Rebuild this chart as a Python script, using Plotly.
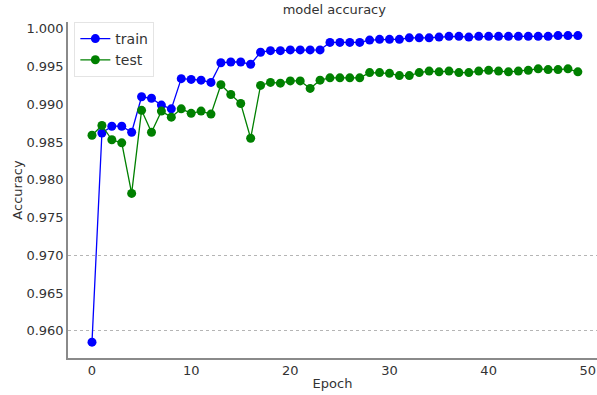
import plotly.graph_objects as go

# Training history: accuracy per epoch
epochs = list(range(50))
train_acc = [0.9585, 0.9862, 0.9871, 0.9871, 0.9863, 0.9910, 0.9908, 0.9899, 0.9894, 0.9934,
             0.9933, 0.9932, 0.9929, 0.9955, 0.9956, 0.9956, 0.9953, 0.9969, 0.9971, 0.9971,
             0.9972, 0.9972, 0.9972, 0.9972, 0.9982, 0.9982, 0.9982, 0.9982, 0.9985, 0.9986,
             0.9986, 0.9986, 0.9988, 0.9988, 0.9988, 0.9989, 0.9990, 0.9990, 0.9989, 0.9990,
             0.9990, 0.9990, 0.9990, 0.9990, 0.9990, 0.9990, 0.9990, 0.9991, 0.9991, 0.9991]
test_acc = [0.9859, 0.9872, 0.9853, 0.9849, 0.9782, 0.9892, 0.9863, 0.9891, 0.9883, 0.9894,
            0.9888, 0.9891, 0.9887, 0.9926, 0.9913, 0.9901, 0.9855, 0.9925, 0.9929, 0.9928,
            0.9931, 0.9931, 0.9921, 0.9932, 0.9935, 0.9935, 0.9935, 0.9935, 0.9942, 0.9942,
            0.9941, 0.9938, 0.9938, 0.9942, 0.9944, 0.9943, 0.9944, 0.9942, 0.9942, 0.9944,
            0.9945, 0.9944, 0.9943, 0.9944, 0.9945, 0.9947, 0.9946, 0.9946, 0.9947, 0.9943]

y_ticks = [0.960, 0.965, 0.970, 0.975, 0.980, 0.985, 0.990, 0.995, 1.000]
y_tick_text = ["0.960", "0.965", "0.970", "0.975", "0.980", "0.985", "0.990", "0.995", "1.000"]
x_ticks = [0, 10, 20, 30, 40, 50]
grid_levels = [0.960, 0.970]

y_range = [0.9564, 1.0009]
x_range = [-2.42, 50.93]

font_family = "DejaVu Sans"
text_color = "#333333"

fig = go.Figure()
fig.add_trace(go.Scatter(
    x=epochs, y=train_acc, name="train", mode="lines+markers",
    line=dict(color="#0000ff", width=1.3),
    marker=dict(color="#0000ff", size=9),
))
fig.add_trace(go.Scatter(
    x=epochs, y=test_acc, name="test", mode="lines+markers",
    line=dict(color="#008000", width=1.3),
    marker=dict(color="#008000", size=9),
))

fig.update_layout(
    width=597, height=395,
    margin=dict(l=68, r=0, t=22, b=37),
    paper_bgcolor="white", plot_bgcolor="white",
    font=dict(family=font_family, size=13, color=text_color),
    showlegend=True,
    legend=dict(
        x=0.012, y=1.0, xanchor="left", yanchor="top",
        bgcolor="rgba(255,255,255,0.9)", bordercolor="#e4e4e4", borderwidth=1,
        font=dict(size=14, color=text_color),
        tracegroupgap=0, itemwidth=30,
    ),
    xaxis=dict(
        range=x_range, tickvals=x_ticks, showgrid=False, zeroline=False,
        showline=True, linecolor="#8a8a8a", linewidth=1.5,
        ticks="", ticklen=0, tickfont=dict(size=13, color=text_color),
        title=dict(text="Epoch", font=dict(size=13, color=text_color), standoff=2),
    ),
    yaxis=dict(
        range=y_range, tickvals=y_ticks, ticktext=y_tick_text,
        showgrid=False, zeroline=False,
        showline=True, linecolor="#8a8a8a", linewidth=1.5,
        ticks="", ticklen=0, tickfont=dict(size=13, color=text_color),
        title=dict(text="Accuracy", font=dict(size=13, color=text_color), standoff=1),
    ),
    yaxis2=dict(
        range=y_range, overlaying="y", tickvals=grid_levels,
        showticklabels=False, showgrid=True, gridcolor="#b5b5b5",
        griddash="dot", gridwidth=1, zeroline=False, showline=False,
    ),
    title=dict(text="model accuracy", x=0.56, xanchor="center", y=0.975,
               yanchor="middle", font=dict(size=13, color=text_color)),
)

# invisible trace to bring the grid axis into the layout
fig.add_trace(go.Scatter(x=[None], y=[None], yaxis="y2", showlegend=False, hoverinfo="skip"))

fig.write_html("out.html")
